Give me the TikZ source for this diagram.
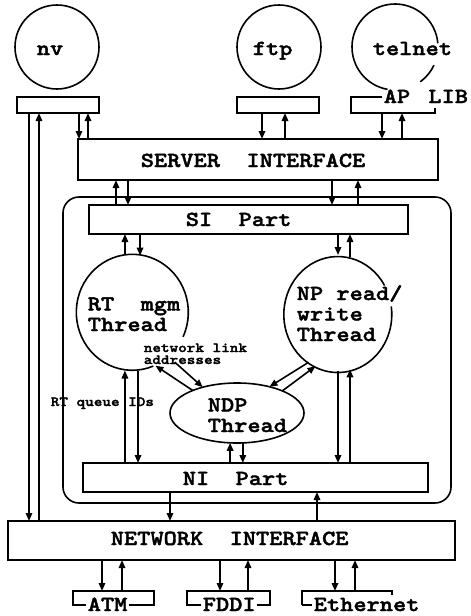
\documentclass[tikz,border=0pt]{standalone}
\usepackage{fontspec}
\setmonofont{Latin Modern Mono Light}[FakeStretch=1.17,BoldFeatures={FakeBold=1.8}]
\usetikzlibrary{arrows.meta,shapes.geometric}
\begin{document}
\begin{tikzpicture}[x=1pt,y=-1pt,line width=1.6pt,>={Triangle[length=8pt,width=6.5pt]},
  lbl/.style={font=\ttfamily\bfseries\fontsize{21.5}{20.5}\selectfont,inner sep=0pt,align=left},
  tiny/.style={font=\ttfamily\bfseries\fontsize{14}{12}\selectfont,inner sep=0pt,align=left},
  box/.style={draw,rectangle,inner sep=0pt,outer sep=0pt},
  brk/.style={rectangle,inner sep=0pt,outer sep=0pt},
  proc/.style={circle,inner sep=0pt,outer sep=0pt},
  thr/.style={ellipse,inner sep=0pt,outer sep=0pt}]
  \useasboundingbox (0,0) rectangle (471,616);

  \node[proc,draw,minimum size=84pt] (nv) at (57,47) {};
  \node[lbl,anchor=base west] (nvtxt) at (36,55) {nv};
  \node[proc,draw,minimum size=84pt] (ftp) at (279,47) {};
  \node[lbl,anchor=base west] (ftptxt) at (252,55) {ftp};
  \node[proc,minimum size=86pt] (telnet) at (395,47) {};
  \draw (telnet.5) arc[start angle=-5,end angle=-260,radius=43];
  \draw (telnet.-54) arc[start angle=54,end angle=25,radius=43];
  \node[lbl,anchor=base west] (telnettxt) at (372,55) {telnet};

  \node[box,minimum width=82pt,minimum height=16pt] (nvbox) at (58,105) {};
  \node[box,minimum width=82pt,minimum height=16pt] (ftpbox) at (278,105) {};
  \node[brk,minimum width=84pt,minimum height=16pt] (aplib) at (393,105) {};
  \draw (aplib.north -| 382,0) -- (aplib.north west) -- (aplib.south west) -- (aplib.south east) -- ++(0,-5);
  \node[lbl,anchor=base west] (aptxt) at (383,103) {AP\kern5pt\ LIB};

  \node[box,minimum width=360pt,minimum height=41pt] (srv) at (258,159.5) {};
  \node[lbl,anchor=base west] (srvtxt) at (140,167) {SERVER\ \ INTERFACE};

  \node[box,rounded corners=16pt,minimum width=388pt,minimum height=306pt] (core) at (257,350) {};
  \node[box,minimum width=319pt,minimum height=29pt] (sipart) at (248.5,219.5) {};
  \node[lbl,anchor=base west] (sitxt) at (185,226) {SI\ \ Part};

  \node[thr,minimum width=112pt,minimum height=116pt] (rt) at (132,313) {};
  \draw (rt.-25) arc[start angle=25,end angle=-292,x radius=56,y radius=58];
  \node[lbl,anchor=base west] (rttxt) at (87,331) {RT\ \ mgm\\Thread};
  \node[thr,minimum width=108pt,minimum height=116pt] (np) at (337,313) {};
  \draw (np.30) arc[start angle=-30,end angle=-368,x radius=54,y radius=58];
  \node[lbl,anchor=base west] (nptxt) at (296,341) {NP read/\\write\\Thread};
  \node[thr,draw,minimum width=134pt,minimum height=60pt] (ndp) at (237,413) {};
  \node[lbl,anchor=base west] (ndptxt) at (207,432) {NDP\\Thread};
  \node[tiny,anchor=base west] (linktxt) at (143,364) {network link\\addresses};
  \node[tiny,anchor=base west] (queuetxt) at (50,406) {RT queue IDs};

  \node[box,minimum width=345pt,minimum height=29pt] (nipart) at (255.5,477.5) {};
  \node[lbl,anchor=base west] (nitxt) at (182,485) {NI\ \ Part};
  \node[box,minimum width=447pt,minimum height=39pt] (netif) at (231.5,540.5) {};
  \node[lbl,anchor=base west] (netiftxt) at (110,545) {NETWORK\ \ INTERFACE};

  \node[brk,minimum width=81pt,minimum height=14pt] (atm) at (113.5,598) {};
  \node[brk,minimum width=83pt,minimum height=14pt] (fddi) at (228.5,598) {};
  \node[brk,minimum width=90pt,minimum height=14pt] (eth) at (347,598) {};
  \draw (atm.south west) -- (atm.north west) -- (atm.north east) -- (atm.south east) -- cycle;
  \draw (fddi.south west) -- (fddi.north west) -- (fddi.north east) -- (fddi.south east) -- cycle;
  \draw (eth.south west) -- (eth.north west) -- (eth.north east) -- ++(0,4);
  \draw (eth.south west) -- ++(10,0);
  \node[lbl,fill=white,inner xsep=1.5pt,anchor=base west] (atmtxt) at (85.5,611) {ATM};
  \node[lbl,fill=white,inner xsep=1.5pt,anchor=base west] (fdditxt) at (200.5,611) {FDDI};
  \node[lbl,fill=white,inner xsep=1.5pt,anchor=base west] (ethtxt) at (311.5,611) {Ethernet};

  \draw[->] (nvbox.south -| 29,0) -- (netif.north -| 29,0);
  \draw[->] (netif.north -| 39,0) -- (nvbox.south -| 39,0);
  \draw[->] (nvbox.south -| 79,0) -- (srv.north -| 79,0);
  \draw[->] (srv.north -| 88,0) -- (nvbox.south -| 88,0);
  \draw[->] (ftpbox.south -| 262,0) -- (srv.north -| 262,0);
  \draw[->] (srv.north -| 285,0) -- (ftpbox.south -| 285,0);
  \draw[->] (aplib.south -| 382,0) -- (srv.north -| 382,0);
  \draw[->] (srv.north -| 402,0) -- (aplib.south -| 402,0);

  \draw[->] (sipart.north -| 116,0) -- (srv.south -| 116,0);
  \draw[->] (srv.south -| 128,0) -- (sipart.north -| 128,0);
  \draw[->] (srv.south -| 332,0) -- (sipart.north -| 332,0);
  \draw[->] (sipart.north -| 358,0) -- (srv.south -| 358,0);

  \draw[->] (rt.97) -- (rt.97 |- sipart.south);
  \draw[->] (rt.82 |- sipart.south) -- (rt.82);
  \draw[->] (np.89 |- sipart.south) -- (np.89);
  \draw[->] (np.77) -- (np.77 |- sipart.south);

  \draw[->] (rt.-97 |- nipart.north) -- (rt.-97);
  \draw[->] (rt.-84) -- (rt.-84 |- nipart.north);
  \draw[->] (np.-89) -- (np.-89 |- nipart.north);
  \draw[->] (np.-77 |- nipart.north) -- (np.-77);
  \draw[->] (ndp.-103 |- nipart.north) -- (ndp.-103);
  \draw[->] (ndp.-79) -- (ndp.-79 |- nipart.north);

  \draw[->] (ndp.153) -- (rt.-66);
  \draw[->,shorten <=8pt] (rt.-50) -- (ndp.143);
  \draw[->] (np.-120) -- (ndp.39);
  \draw[->] (ndp.26) -- (np.-112);

  \draw[->] (nipart.south -| 170,0) -- (netif.north -| 170,0);
  \draw[->] (netif.north -| 317,0) -- (nipart.south -| 317,0);
  \draw[->] (netif.south -| 102,0) -- (atm.north -| 102,0);
  \draw[->] (atm.north -| 122,0) -- (netif.south -| 122,0);
  \draw[->] (netif.south -| 220,0) -- (fddi.north -| 220,0);
  \draw[->] (fddi.north -| 248,0) -- (netif.south -| 248,0);
  \draw[->] (netif.south -| 335,0) -- (eth.north -| 335,0);
  \draw[->] (eth.north -| 355,0) -- (netif.south -| 355,0);
\end{tikzpicture}
\end{document}
